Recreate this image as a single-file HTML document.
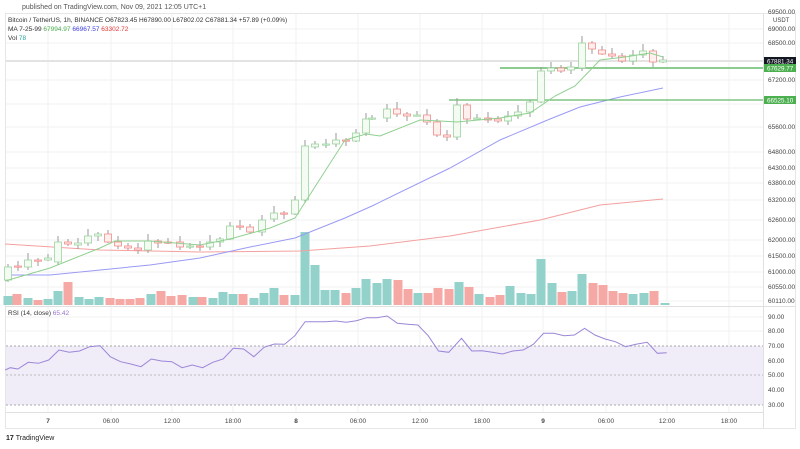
<!DOCTYPE html>
<html><head><meta charset="utf-8"><style>
body{margin:0;background:#fff;width:800px;height:444px;overflow:hidden;font-family:"Liberation Sans",sans-serif}
svg text{font-family:"Liberation Sans",sans-serif}
</style></head><body>
<svg id="s" width="800" height="444" xmlns="http://www.w3.org/2000/svg">
<text x="22" y="9" font-size="7" fill="#555">published on TradingView.com, Nov 09, 2021 12:05 UTC+1</text>
<rect x="5.5" y="13.5" width="790" height="415" fill="none" stroke="#e6e6e6"/>
<g id="grid" stroke="#f2f2f2" stroke-width="1"></g>
<polygon id="rsifill" fill="#f0ecf8"/>
<g id="content"></g>
<text x="8" y="22" font-size="6.5" fill="#333">Bitcoin / TetherUS, 1h, BINANCE  O67823.45  H67890.00  L67802.02  C67881.34  +57.89 (+0.09%)</text>
<text x="8" y="31" font-size="6.5" fill="#333">MA 7-25-99 <tspan fill="#4caf50">67994.97</tspan> <tspan fill="#3f3fe0">66967.57</tspan> <tspan fill="#e53935">63302.72</tspan></text>
<text x="8" y="40" font-size="6.5" fill="#333">Vol <tspan fill="#26a69a">78</tspan></text>
<text x="8" y="315" font-size="6.5" fill="#333">RSI (14, close) <tspan fill="#9575cd">65.42</tspan></text>
<g id="tr" font-size="6.5" fill="#444"></g>
<text x="6" y="440" font-size="7" fill="#222" font-weight="bold">17 <tspan font-weight="normal">TradingView</tspan></text>
</svg>
<script>
const NS="http://www.w3.org/2000/svg",C=document.getElementById('content'),G=document.getElementById('grid'),T=document.getElementById('tr');
function el(p,t,a){const e=document.createElementNS(NS,t);for(const k in a)e.setAttribute(k,a[k]);p.appendChild(e);return e}
const xs=[48,111,172,233,296,358,420,482,543,606,667,729];
xs.forEach(x=>el(G,'line',{x1:x,x2:x,y1:14,y2:412}));
[29,43,80,104,127,152,168,183,200,220,240,256,272,287,301,317,331,361,390].forEach(y=>el(G,'line',{x1:6,x2:763,y1:y,y2:y}));
el(C,'line',{x1:763.5,x2:763.5,y1:14,y2:428,stroke:'#e0e0e0'});
el(C,'line',{x1:6,x2:795,y1:306.5,y2:306.5,stroke:'#e0e0e0'});
el(C,'line',{x1:6,x2:763,y1:412.5,y2:412.5,stroke:'#e0e0e0'});
const V=[[8,296,1],[17,294,0],[28,298,1],[38,300,0],[48,299,1],[58,291,1],[68,282,0],[79,297,1],[89,299,1],[99,297,1],[110,298,0],[120,299,0],[130,299,0],[140,298,0],[151,294,1],[161,291,0],[171,296,0],[182,295,0],[193,297,1],[202,297,0],[213,298,1],[223,292,1],[233,294,1],[243,294,0],[254,298,1],[264,293,1],[274,288,1],[284,295,0],[295,295,1],[305,232,1],[315,265,1],[325,290,1],[335,290,1],[346,293,0],[356,288,1],[366,279,1],[377,283,1],[387,279,1],[398,280,0],[408,289,0],[418,293,1],[428,293,0],[438,288,0],[449,289,0],[459,282,1],[469,287,0],[479,294,1],[490,297,0],[500,295,0],[510,286,1],[521,293,1],[531,294,1],[541,259,1],[552,283,1],[562,292,0],[572,291,1],[582,274,1],[593,283,0],[603,285,0],[613,291,0],[623,293,0],[633,294,1],[644,293,1],[654,291,0],[665,303,1]];
V.forEach(v=>el(C,'rect',{x:v[0]-4.5,y:v[1],width:9,height:305-v[1],fill:v[2]?'#93d2cb':'#f6a8a5'}));
function pl(pts,c,w){el(C,'polyline',{points:pts.map(p=>p.join(',')).join(' '),fill:'none',stroke:c,'stroke-width':w||1})}
pl([[5,244],[100,250],[200,252],[300,251],[370,246],[450,236],[540,220],[600,205],[663,199]],'#f4a0a0');
pl([[5,275],[50,275],[150,265],[200,258],[250,247],[295,238],[345,218],[372,206],[450,168],[500,140],[550,119],[580,107],[620,97],[663,88]],'#9a9af5');
el(C,'line',{x1:6,x2:763,y1:61,y2:61,stroke:'#e3e3e3','stroke-width':2});
el(C,'line',{x1:500,x2:763,y1:68,y2:68,stroke:'#66bb6a','stroke-width':1.5});
el(C,'line',{x1:449,x2:763,y1:100,y2:100,stroke:'#66bb6a','stroke-width':1.3});
const K=[[8,280,267],[18,266,267],[28,267,260],[38,260,261],[48,260,258],[58,262,242],[68,242,244],[78,245,243],[88,243,236],[98,236,234],[108,234,242],[118,242,246],[128,246,248],[138,248,250],[148,250,241],[158,241,243],[168,242,243],[180,242,247],[190,247,246],[200,246,247],[210,247,242],[220,242,239],[230,239,226],[240,226,227],[250,227,232],[262,232,220],[274,219,213],[284,213,214],[295,214,200],[305,200,146],[315,147,144],[326,144,144],[336,144,140],[346,140,141],[356,141,133],[366,133,119],[372,118,118],[387,118,109],[397,109,114],[407,114,116],[417,115,115],[427,115,122],[437,122,135],[447,135,137],[457,137,105],[467,105,119],[477,118,118],[488,118,120],[498,119,121],[508,121,116],[518,116,112],[530,112,102],[541,102,71],[551,71,68],[561,68,71],[571,70,67],[582,68,43],[592,43,49],[602,50,54],[612,54,56],[622,56,61],[633,61,55],[643,55,51],[653,51,62],[663,62,60]];
K.forEach((k,i)=>{const [x,o,c]=k,up=c<=o,t=Math.min(o,c),b=Math.max(o,c);
 const hw=[3,5,7,2,4,6][i%6],lw=[2,4,3,5,1,3][i%6];
 el(C,'line',{x1:x,x2:x,y1:t-hw,y2:b+lw,stroke:'#999'});
 el(C,'rect',{x:x-3.5,y:t,width:7,height:Math.max(b-t,1.2),fill:up?'#f3fbf3':'#fff0f0',stroke:up?'#9bd49e':'#f28b88','stroke-width':0.8});});
pl([[5,281],[50,268],[100,248],[115,241],[150,241],[200,245],[230,239],[270,228],[295,218],[345,140],[366,134],[380,136],[420,120],[440,121],[457,122],[500,118],[530,113],[555,96],[575,86],[600,60],[625,57],[650,53],[663,57]],'#8fd08f');
el(C,'line',{x1:6,x2:763,y1:346,y2:346,stroke:'#aaa','stroke-dasharray':'2,2'});
el(C,'line',{x1:6,x2:763,y1:375,y2:375,stroke:'#bbb','stroke-dasharray':'2,2'});
el(C,'line',{x1:6,x2:763,y1:405,y2:405,stroke:'#aaa','stroke-dasharray':'2,2'});
document.getElementById('rsifill').setAttribute('points','6,346 763,346 763,405 6,405');
const R=[[10,210],[20,203],[35,207],[55,187],[75,190],[95,180],[115,150],[135,157],[155,153],[175,140],[195,137],[215,170],[235,185],[255,192],[275,200],[295,177],[315,183],[335,185],[355,203],[375,195],[395,203],[415,187],[435,177],[455,145],[475,147],[495,170],[515,142],[535,132],[555,133],[575,107],[595,65],[615,65],[635,65],[655,63],[675,67],[695,62],[715,53],[735,53],[755,48],[775,70],[795,73],[815,75],[835,107],[855,153],[875,157],[900,115],[920,153],[940,152],[960,157],[980,162],[1000,153],[1020,150],[1040,133],[1060,100],[1080,100],[1100,107],[1120,105],[1140,85],[1160,105],[1180,117],[1200,125],[1220,140],[1240,133],[1262,127],[1282,160],[1300,158]];
pl(R.map(p=>[(p[0]/1.95).toFixed(1),(300+p[1]/3).toFixed(1)]),'#9c86d8');
[['69500.00',14],['69000.00',31],['68500.00',45],['67200.00',82],['65600.00',129],['64800.00',154],['64300.00',170],['63800.00',185],['63200.00',202],['62600.00',222],['62000.00',242],['61500.00',258],['61000.00',274],['60550.00',289],['60110.00',303],['90.00',319],['80.00',333],['70.00',348],['60.00',363],['50.00',377],['40.00',392],['30.00',407]].forEach(l=>{const t=el(T,'text',{x:768,y:l[1]});t.textContent=l[0]});
const u=el(T,'text',{x:773,y:22,'font-size':6});u.textContent='USDT';
[['67881.34',61,'#131722'],['67629.77',68,'#4caf50'],['66525.10',100,'#4caf50']].forEach(b=>{el(C,'rect',{x:764,y:b[1]-4,width:32,height:8,fill:b[2]});const t=el(C,'text',{x:767,y:b[1]+2.5,'font-size':6.3,fill:'#fff'});t.textContent=b[0]});
const lab=['7','06:00','12:00','18:00','8','06:00','12:00','18:00','9','06:00','12:00','18:00'];
xs.forEach((x,i)=>{const t=el(T,'text',{x:x,y:423,'text-anchor':'middle','font-weight':(lab[i].length==1?'bold':'normal')});t.textContent=lab[i]});
</script>
</body></html>
